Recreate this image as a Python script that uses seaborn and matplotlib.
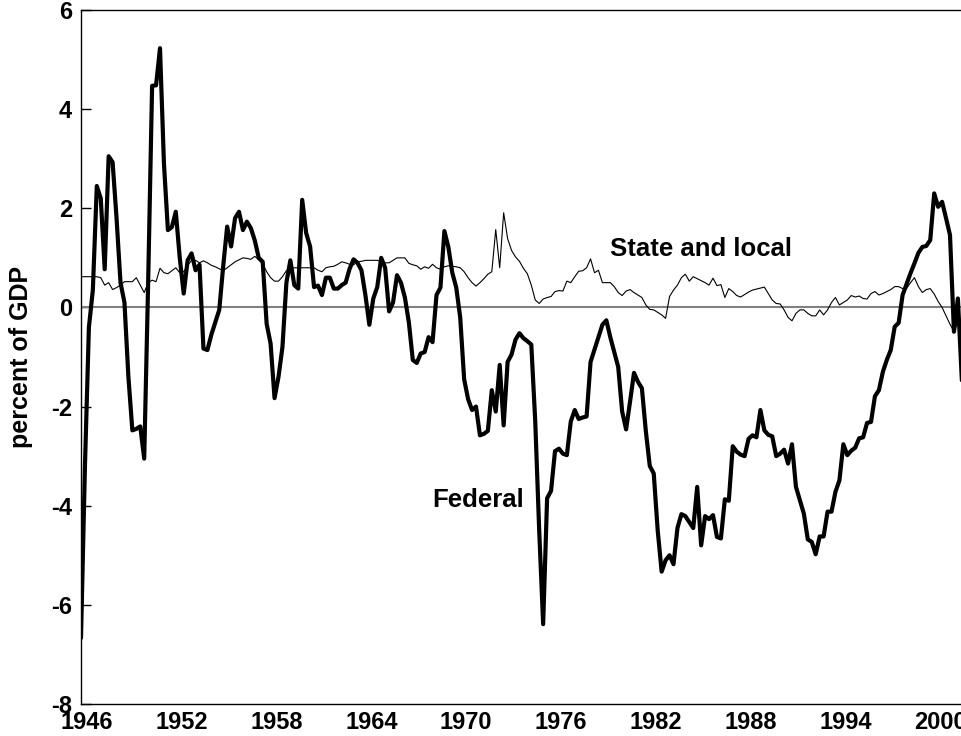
import numpy as np
import pandas as pd
import matplotlib
matplotlib.use("Agg")
import matplotlib.pyplot as plt
import seaborn as sns

# quarterly values, 1946Q1 - 2001Q4, percent of GDP (two years per row)
federal = [
    -6.67, -3.2, -0.4, 0.35, 2.45, 2.2, 0.77, 3.05,
    2.93, 1.8, 0.5, 0.1, -1.4, -2.48, -2.45, -2.4,
    -3.05, 0.5, 4.47, 4.48, 5.23, 2.9, 1.56, 1.62,
    1.93, 1.0, 0.28, 0.95, 1.09, 0.75, 0.86, -0.83,
    -0.86, -0.55, -0.3, -0.05, 0.83, 1.63, 1.23, 1.8,
    1.93, 1.56, 1.73, 1.6, 1.35, 1.0, 0.92, -0.33,
    -0.73, -1.83, -1.4, -0.8, 0.5, 0.95, 0.45, 0.38,
    2.17, 1.5, 1.23, 0.41, 0.44, 0.25, 0.6, 0.6,
    0.38, 0.38, 0.45, 0.5, 0.78, 0.97, 0.9, 0.75,
    0.25, -0.35, 0.18, 0.41, 1.0, 0.8, -0.08, 0.1,
    0.65, 0.5, 0.2, -0.3, -1.06, -1.12, -0.93, -0.9,
    -0.6, -0.7, 0.25, 0.4, 1.54, 1.22, 0.7, 0.4,
    -0.2, -1.45, -1.85, -2.07, -2.0, -2.58, -2.55, -2.49,
    -1.67, -2.1, -1.16, -2.38, -1.1, -0.95, -0.65, -0.52,
    -0.62, -0.68, -0.75, -2.3, -4.5, -6.39, -3.85, -3.7,
    -2.9, -2.85, -2.95, -2.98, -2.3, -2.07, -2.25, -2.22,
    -2.2, -1.1, -0.85, -0.6, -0.35, -0.26, -0.6, -0.9,
    -1.2, -2.1, -2.46, -1.9, -1.32, -1.5, -1.63, -2.5,
    -3.2, -3.35, -4.5, -5.33, -5.1, -5.0, -5.18, -4.45,
    -4.17, -4.21, -4.33, -4.45, -3.62, -4.8, -4.21, -4.27,
    -4.19, -4.63, -4.66, -3.87, -3.9, -2.8, -2.91, -2.97,
    -3.0, -2.65, -2.58, -2.62, -2.07, -2.48, -2.57, -2.6,
    -3.0, -2.95, -2.87, -3.15, -2.76, -3.62, -3.89, -4.16,
    -4.68, -4.73, -4.98, -4.62, -4.62, -4.12, -4.12, -3.72,
    -3.49, -2.76, -2.98, -2.89, -2.83, -2.64, -2.62, -2.33,
    -2.31, -1.79, -1.67, -1.3, -1.06, -0.86, -0.39, -0.31,
    0.25, 0.47, 0.69, 0.89, 1.1, 1.22, 1.24, 1.36,
    2.3, 2.03, 2.13, 1.8, 1.46, -0.49, 0.18, -1.47,
]

state_local = [
    0.62, 0.62, 0.62, 0.62, 0.62, 0.6, 0.45, 0.5,
    0.36, 0.4, 0.45, 0.52, 0.52, 0.52, 0.6, 0.45,
    0.3, 0.5, 0.55, 0.52, 0.79, 0.7, 0.68, 0.74,
    0.8, 0.7, 0.72, 0.85, 0.95, 0.95, 0.9, 0.94,
    0.9, 0.85, 0.82, 0.78, 0.74, 0.8, 0.86, 0.92,
    0.96, 1.0, 0.99, 0.97, 1.03, 0.96, 0.88, 0.72,
    0.6, 0.53, 0.53, 0.62, 0.74, 0.78, 0.8, 0.8,
    0.8, 0.8, 0.8, 0.8, 0.75, 0.72, 0.8, 0.82,
    0.83, 0.87, 0.92, 0.9, 0.87, 0.86, 0.92, 0.93,
    0.95, 0.95, 0.95, 0.95, 0.93, 0.9, 0.9, 0.95,
    1.0, 1.0, 1.0, 0.89, 0.86, 0.84, 0.77, 0.82,
    0.79, 0.87, 0.8, 0.77, 0.82, 0.84, 0.83, 0.82,
    0.8, 0.72, 0.6, 0.5, 0.43, 0.5, 0.58, 0.67,
    0.72, 1.57, 0.8, 1.91, 1.39, 1.15, 1.02, 0.93,
    0.79, 0.68, 0.45, 0.15, 0.08, 0.17, 0.2, 0.22,
    0.32, 0.34, 0.33, 0.53, 0.5, 0.62, 0.73, 0.74,
    0.8, 0.98, 0.7, 0.75, 0.5, 0.5, 0.5, 0.42,
    0.3, 0.24, 0.33, 0.36, 0.3, 0.25, 0.2, 0.05,
    -0.04, -0.05, -0.1, -0.15, -0.22, 0.22, 0.35, 0.45,
    0.6, 0.67, 0.53, 0.62, 0.58, 0.54, 0.5, 0.45,
    0.59, 0.44, 0.46, 0.2, 0.38, 0.32, 0.24, 0.21,
    0.26, 0.31, 0.35, 0.37, 0.39, 0.41, 0.28, 0.15,
    0.08, 0.07, -0.05, -0.2, -0.27, -0.12, -0.05, -0.05,
    -0.12, -0.17, -0.17, -0.05, -0.15, -0.05, 0.1, 0.2,
    0.05, 0.1, 0.15, 0.24, 0.21, 0.23, 0.18, 0.17,
    0.28, 0.32, 0.25, 0.28, 0.32, 0.36, 0.42, 0.42,
    0.38, 0.38, 0.5, 0.6, 0.42, 0.3, 0.36, 0.38,
    0.27, 0.12, 0.0, -0.17, -0.34, -0.48, -0.3, -0.35,
]

tick_years = [1946, 1952, 1958, 1964, 1970, 1976, 1982, 1988, 1994, 2000]
y_ticks = [-8, -6, -4, -2, 0, 2, 4, 6]

dates = 1946 + np.arange(len(federal)) / 4
df = pd.DataFrame({"date": dates, "federal": federal, "state_local": state_local})

sns.set_style("white")
plt.rcParams["font.family"] = ["Liberation Sans", "DejaVu Sans"]
plt.rcParams["font.weight"] = "bold"
plt.rcParams["axes.unicode_minus"] = False
plt.rcParams["text.color"] = "black"
plt.rcParams["axes.labelcolor"] = "black"
plt.rcParams["xtick.color"] = "black"
plt.rcParams["ytick.color"] = "black"

fig = plt.figure(figsize=(9.62, 7.36), dpi=100)
# axes run a little past the right edge of the picture, as in the original
ax = fig.add_axes([81 / 962, 32 / 736, 884.8 / 962, 694 / 736])

ax.axhline(0, color="#808080", lw=1.5, zorder=1)
sns.lineplot(data=df, x="date", y="state_local", color="black", lw=0.8, ax=ax)
sns.lineplot(data=df, x="date", y="federal", color="black", lw=3, ax=ax)

ax.set_xlim(1946, 2002)
ax.set_ylim(-8, 6)
ax.set_yticks(y_ticks)
ax.set_yticklabels([str(v) for v in y_ticks])
# Excel-style category labels sit a little right of the first quarter
ax.set_xticks(np.array(tick_years) + 0.375)
ax.set_xticklabels([str(y) for y in tick_years])
ax.tick_params(axis="x", length=0, pad=5, labelsize=17)
ax.tick_params(axis="y", direction="in", length=7, width=1, pad=6.5,
               labelsize=17, left=True)

ax.set_xlabel("")
ax.set_ylabel("percent of GDP", fontsize=18, fontweight="bold")
ax.yaxis.set_label_coords(-48 / 884.8, 0.5)

for side in ["top", "left", "bottom"]:
    ax.spines[side].set_color("black")
    ax.spines[side].set_linewidth(1)
ax.spines["right"].set_visible(False)

ax.text(1979.48, 1.035, "State and local", fontsize=18.5, fontweight="bold")
ax.text(1968.2, -4.02, "Federal", fontsize=18.5, fontweight="bold")

fig.savefig("out.png", dpi=100)
